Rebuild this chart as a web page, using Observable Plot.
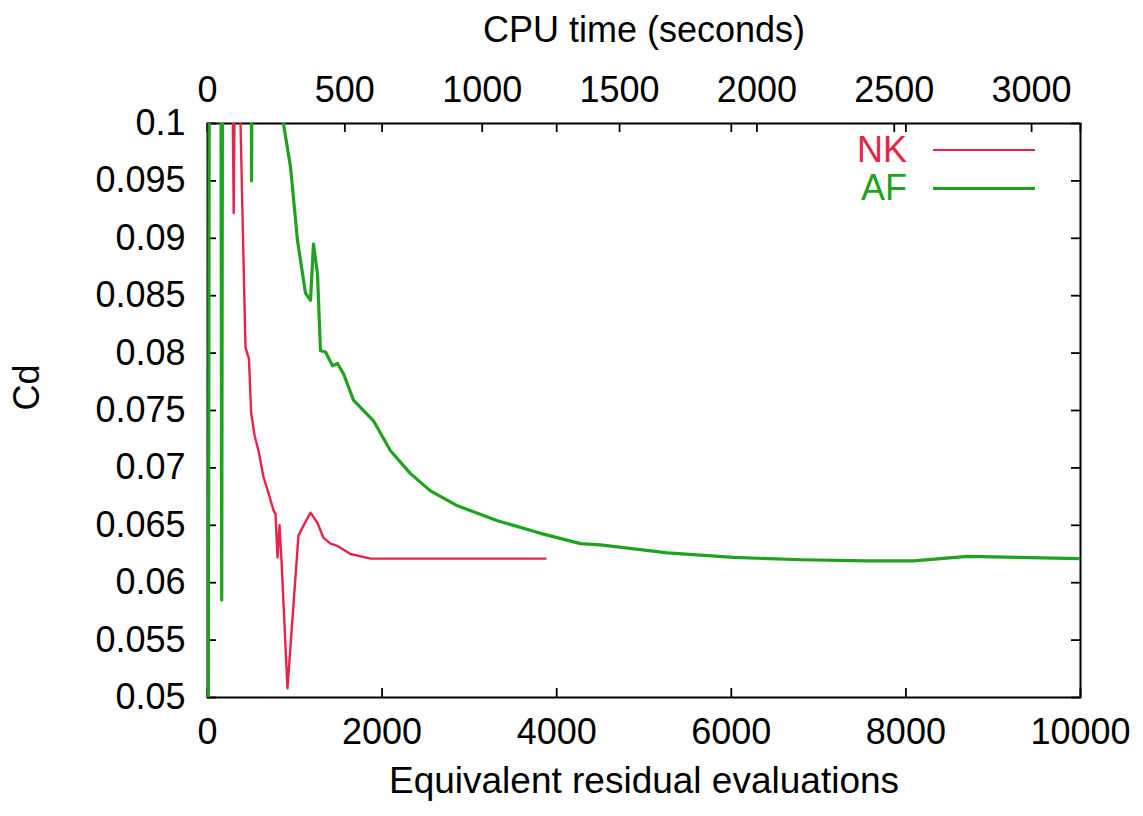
<!DOCTYPE html>
<html>
<head>
<meta charset="utf-8">
<script src="https://cdn.jsdelivr.net/npm/d3@7"></script>
<script src="https://cdn.jsdelivr.net/npm/@observablehq/plot@0.6"></script>
<style>
  html, body { margin: 0; padding: 0; background: #fff; }
  #wrap { position: relative; width: 1143px; height: 816px; font-family: "Liberation Sans", Arial, Helvetica, sans-serif; }
  .leg { position: absolute; font-size: 36px; line-height: 1; }
  .leg span { position: absolute; right: 0; top: 0; }
</style>
</head>
<body>
<div id="wrap"></div>
<script>
// ---- data ----
const seriesNames = ["NK", "AF"];
const seriesColors = ["#e8234a", "#1ea31e"];

// AF: Cd vs equivalent residual evaluations (values above 0.1 run off the top of the chart)
const afEvals = [10, 25, 150, 163, 176, 490, 505, 520, 860, 870, 951, 1031, 1123, 1180, 1214, 1260, 1294, 1352, 1432, 1489, 1558, 1672, 1901, 2096, 2325, 2554, 2864, 3322, 3814, 4273, 4502, 5269, 6025, 6793, 7560, 8087, 8706, 9278, 10000];
const afCd    = [0.05, 0.13, 0.13, 0.0585, 0.13, 0.13, 0.095, 0.13, 0.13, 0.1, 0.0962, 0.0898, 0.0852, 0.0846, 0.0895, 0.0869, 0.0802, 0.0801, 0.0789, 0.0791, 0.0782, 0.0759, 0.0741, 0.0715, 0.0695, 0.0680, 0.0667, 0.0654, 0.0643, 0.0634, 0.0633, 0.0626, 0.0622, 0.0620, 0.0619, 0.0619, 0.0623, 0.0622, 0.0621];

// NK
const nkEvals = [255, 300, 340, 370, 378, 435, 475, 500, 540, 584, 642, 699, 756, 779, 802, 825, 848, 916, 1042, 1088, 1180, 1260, 1329, 1409, 1489, 1638, 1867, 2130, 3872];
const nkCd    = [0.13, 0.0922, 0.13, 0.13, 0.1, 0.0805, 0.0795, 0.0748, 0.0728, 0.0715, 0.0692, 0.0678, 0.0663, 0.0660, 0.0622, 0.0650, 0.0619, 0.0508, 0.0641, 0.0648, 0.0661, 0.0652, 0.0639, 0.0634, 0.0632, 0.0625, 0.0621, 0.0621, 0.0621];

// axes
const xTicks = [0, 2000, 4000, 6000, 8000, 10000];
const yTicks = [0.05, 0.055, 0.06, 0.065, 0.07, 0.075, 0.08, 0.085, 0.09, 0.095, 0.1];
const cpuTicks = [0, 500, 1000, 1500, 2000, 2500, 3000];
const cpuAtMaxEvals = 3178; // CPU seconds corresponding to 10000 evaluations
const xTitle = "Equivalent residual evaluations";
const x2Title = "CPU time (seconds)";
const yTitle = "Cd";

// ---- build ----
const af = afEvals.map((x, i) => ({x, y: afCd[i]}));
const nk = nkEvals.map((x, i) => ({x, y: nkCd[i]}));
const cpuPos = cpuTicks.map(t => t * 10000 / cpuAtMaxEvals);

const W = 1143, H = 816, mL = 207, mR = 63, mT = 123, mB = 119;
const plotH = H - mT - mB, plotW = W - mL - mR;
const tk = 9;

const chart = Plot.plot({
  width: W, height: H,
  marginLeft: mL, marginRight: mR, marginTop: mT, marginBottom: mB,
  style: {fontFamily: '"Liberation Sans", Arial, Helvetica, sans-serif', fontSize: "36px", color: "#000", background: "#fff"},
  x: {domain: [0, 10000]},
  y: {domain: [0.05, 0.1]},
  marks: [
    // inward ticks
    Plot.tickX(xTicks, {x: d => d, insetTop: plotH - tk, stroke: "#000", strokeWidth: 1.8}),
    Plot.tickX(xTicks, {x: d => d, insetBottom: plotH - tk, stroke: "#000", strokeWidth: 1.8}),
    Plot.tickX(cpuPos, {x: d => d, insetBottom: plotH - tk, stroke: "#000", strokeWidth: 1.8}),
    Plot.tickY(yTicks, {y: d => d, insetRight: plotW - tk, stroke: "#000", strokeWidth: 1.8}),
    Plot.tickY(yTicks, {y: d => d, insetLeft: plotW - tk, stroke: "#000", strokeWidth: 1.8}),
    Plot.frame({stroke: "#000", strokeWidth: 2}),
    Plot.line(af, {x: "x", y: "y", stroke: seriesColors[1], strokeWidth: 3.2, clip: true}),
    Plot.line(nk, {x: "x", y: "y", stroke: seriesColors[0], strokeWidth: 2.4, clip: true}),
    Plot.axisX({anchor: "bottom", ticks: xTicks, tickSize: 0, tickPadding: 21, label: null, tickFormat: d => String(d)}),
    Plot.axisX(cpuPos, {anchor: "top", tickSize: 0, tickPadding: 22, label: null, tickFormat: (d, i) => String(cpuTicks[i])}),
    Plot.axisY({anchor: "left", ticks: yTicks, tickSize: 0, tickPadding: 22, label: null, tickFormat: d => String(+d.toFixed(3))}),
    Plot.text([xTitle], {text: d => d, frameAnchor: "bottom", dy: 84, fontSize: 37, lineAnchor: "middle"}),
    Plot.text([x2Title], {text: d => d, frameAnchor: "top", dy: -93, fontSize: 36, lineAnchor: "middle"}),
    Plot.text([yTitle], {text: d => d, frameAnchor: "left", dx: -180, rotate: -90, fontSize: 36, lineAnchor: "middle"})
  ]
});

const wrap = document.getElementById("wrap");
wrap.appendChild(chart);

// legend (inside the plot, top-right)
const legY = [150, 188];
seriesNames.forEach((name, i) => {
  const lab = document.createElement("div");
  lab.className = "leg";
  lab.style.left = "780px"; lab.style.width = "127px";
  lab.style.top = (legY[i] - 18) + "px"; lab.style.height = "36px";
  lab.style.color = seriesColors[i];
  lab.innerHTML = `<span>${name}</span>`;
  wrap.appendChild(lab);
  const sw = document.createElement("div");
  sw.style.position = "absolute";
  sw.style.left = "933px"; sw.style.width = "102px";
  sw.style.top = (legY[i] - 1) + "px"; sw.style.height = (i === 1 ? 3 : 2) + "px";
  sw.style.background = seriesColors[i];
  wrap.appendChild(sw);
});
</script>
</body>
</html>
